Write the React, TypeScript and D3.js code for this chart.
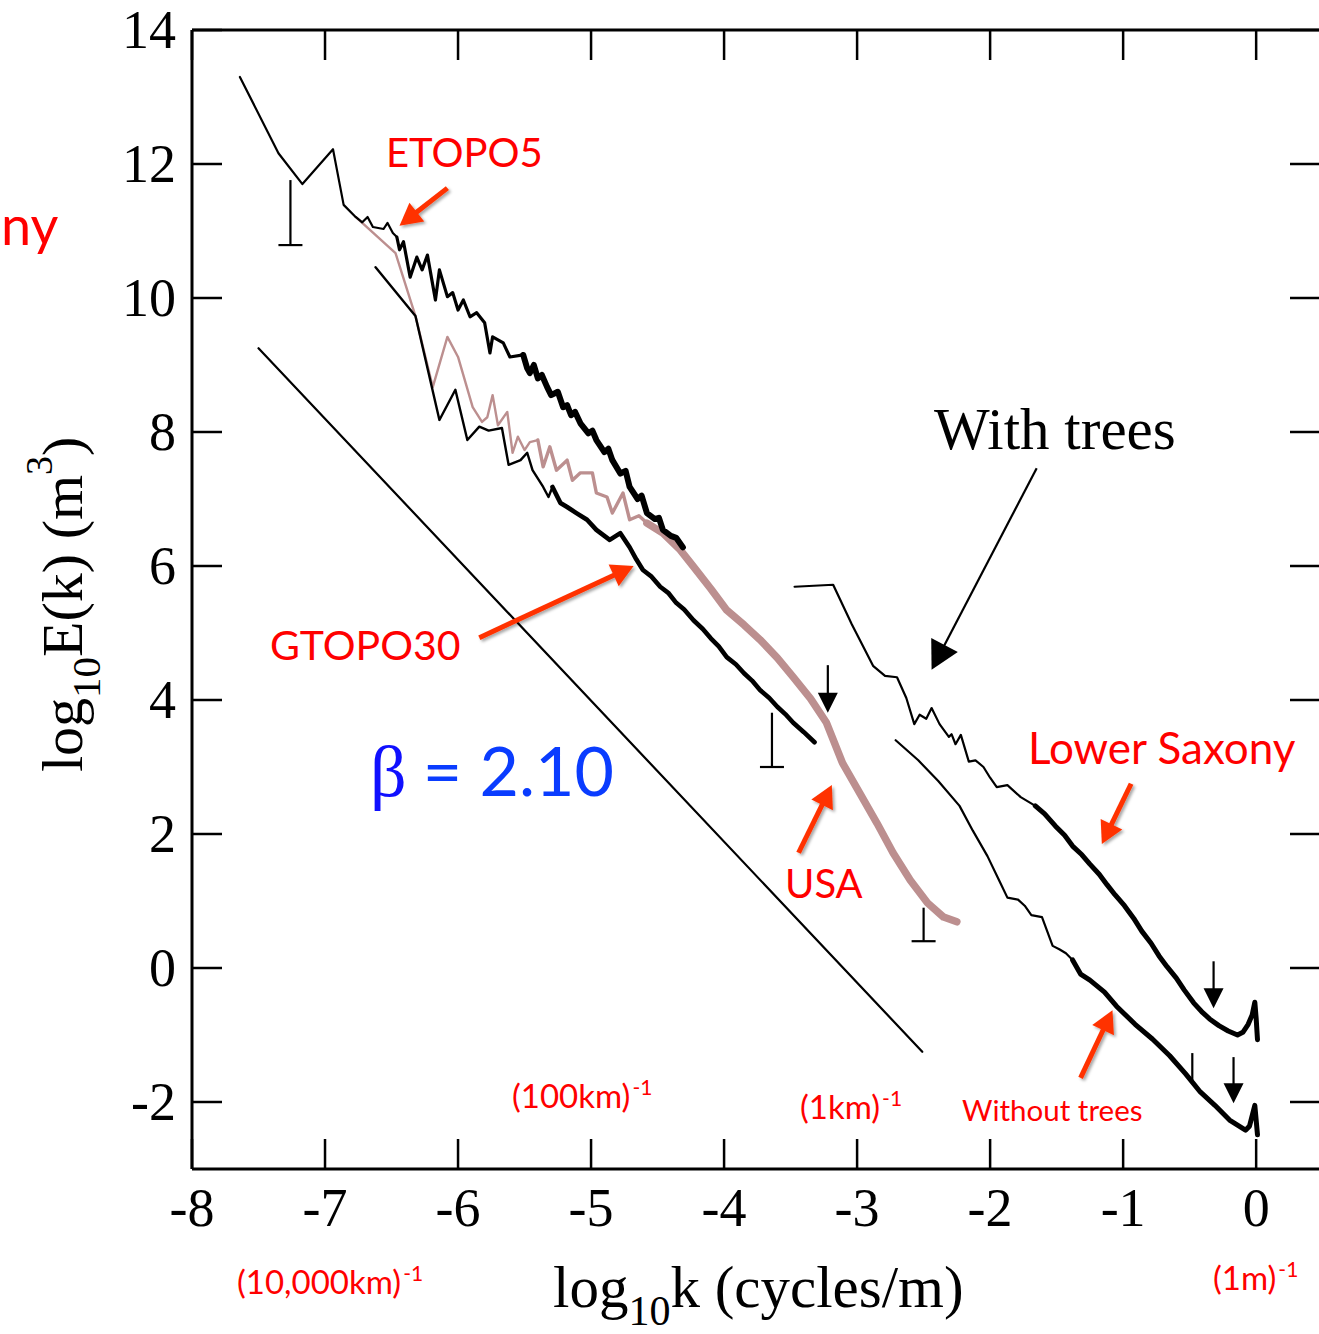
import React from 'react';
import * as d3 from 'd3';

// ---------- data (log10 k, log10 E) ----------
const xTicks = [-8, -7, -6, -5, -4, -3, -2, -1, 0];
const yTicks = [-2, 0, 2, 4, 6, 8, 10, 12, 14];

const etopo5Coarse: number[][] = [
  [-7.64, 13.3], [-7.35, 12.16], [-7.17, 11.7], [-6.94, 12.22], [-6.86, 11.39], [-6.77, 11.21],
  [-6.72, 11.13], [-6.68, 11.21], [-6.64, 11.06], [-6.56, 11.03], [-6.53, 11.12], [-6.49, 10.97], [-6.46, 10.91],
];
const etopo5Mid: number[][] = [
  [-6.46, 10.91], [-6.44, 10.72], [-6.41, 10.84], [-6.36, 10.31], [-6.31, 10.61], [-6.27, 10.42], [-6.23, 10.64],
  [-6.17, 9.97], [-6.14, 10.42], [-6.08, 10.02], [-6.04, 10.08], [-6.0, 9.82], [-5.96, 9.97], [-5.91, 9.72],
  [-5.86, 9.78], [-5.8, 9.63], [-5.76, 9.18], [-5.74, 9.42], [-5.66, 9.33], [-5.61, 9.12], [-5.51, 9.15],
];
const etopo5Fine: number[][] = [
  [-5.51, 9.15], [-5.48, 8.95], [-5.46, 8.88], [-5.43, 9.0], [-5.4, 8.8], [-5.37, 8.85], [-5.33, 8.67],
  [-5.3, 8.55], [-5.25, 8.6], [-5.21, 8.37], [-5.18, 8.4], [-5.15, 8.25], [-5.12, 8.3], [-5.08, 8.13],
  [-5.02, 7.98], [-4.99, 8.02], [-4.96, 7.88], [-4.9, 7.7], [-4.87, 7.75], [-4.84, 7.58], [-4.78, 7.38],
  [-4.74, 7.42], [-4.71, 7.18], [-4.65, 7.0], [-4.62, 7.05], [-4.58, 6.79], [-4.52, 6.7], [-4.49, 6.72],
  [-4.46, 6.54], [-4.4, 6.45], [-4.36, 6.42], [-4.31, 6.28],
];
const gtopo30Coarse: number[][] = [
  [-6.62, 10.46], [-6.32, 9.73], [-6.14, 8.18], [-6.02, 8.63], [-5.93, 7.88], [-5.84, 8.08], [-5.77, 8.02],
  [-5.67, 8.06], [-5.62, 7.51], [-5.53, 7.58], [-5.48, 7.69], [-5.44, 7.43], [-5.36, 7.18], [-5.32, 7.03], [-5.29, 7.18],
];
const gtopo30Fine: number[][] = [
  [-5.29, 7.18], [-5.23, 6.94], [-5.18, 6.88], [-5.11, 6.79], [-5.03, 6.69], [-4.96, 6.54], [-4.86, 6.39],
  [-4.78, 6.49], [-4.71, 6.28], [-4.66, 6.1], [-4.61, 5.94], [-4.55, 5.85], [-4.48, 5.69], [-4.42, 5.6],
  [-4.36, 5.45], [-4.3, 5.35], [-4.23, 5.19], [-4.16, 5.06], [-4.1, 4.92], [-4.04, 4.8], [-3.98, 4.64],
  [-3.91, 4.53], [-3.85, 4.4], [-3.79, 4.29], [-3.73, 4.15], [-3.66, 4.03], [-3.6, 3.9], [-3.54, 3.79],
  [-3.48, 3.66], [-3.4, 3.52], [-3.32, 3.37],
];
const usaCoarse: number[][] = [
  [-6.77, 11.21], [-6.47, 10.67], [-6.32, 9.73], [-6.19, 8.67], [-6.08, 9.42], [-6.0, 9.12], [-5.89, 8.37],
  [-5.82, 8.15], [-5.78, 8.22], [-5.74, 8.55], [-5.7, 8.1], [-5.63, 8.3], [-5.59, 7.69], [-5.55, 7.93],
  [-5.5, 7.73], [-5.46, 7.85], [-5.4, 7.88],
];
const usaMid: number[][] = [
  [-5.4, 7.88], [-5.36, 7.48], [-5.31, 7.78], [-5.26, 7.43], [-5.18, 7.58], [-5.14, 7.28], [-5.08, 7.39],
  [-4.99, 7.39], [-4.96, 7.09], [-4.88, 7.03], [-4.84, 6.79], [-4.76, 7.09], [-4.71, 6.69], [-4.64, 6.75],
  [-4.58, 6.64],
];
const usaFine: number[][] = [
  [-4.58, 6.64], [-4.46, 6.49], [-4.33, 6.24], [-4.23, 5.99], [-4.1, 5.66], [-3.98, 5.34], [-3.85, 5.12],
  [-3.73, 4.9], [-3.6, 4.63], [-3.48, 4.34], [-3.35, 4.02], [-3.23, 3.66], [-3.11, 3.06], [-2.98, 2.61],
  [-2.85, 2.16], [-2.73, 1.72], [-2.6, 1.31], [-2.47, 0.97], [-2.35, 0.76], [-2.25, 0.69],
];
const withTreesCoarse: number[][] = [
  [-3.47, 5.69], [-3.18, 5.72], [-3.04, 5.13], [-2.88, 4.51], [-2.79, 4.36], [-2.7, 4.34], [-2.63, 4.03],
  [-2.57, 3.64], [-2.53, 3.78], [-2.48, 3.72], [-2.44, 3.88], [-2.38, 3.64], [-2.31, 3.45], [-2.29, 3.49],
  [-2.26, 3.34], [-2.22, 3.48], [-2.16, 3.08], [-2.11, 3.1], [-2.05, 3.0], [-2.0, 2.84], [-1.95, 2.7],
  [-1.87, 2.73], [-1.77, 2.55], [-1.66, 2.42],
];
const withTreesFine: number[][] = [
  [-1.66, 2.42], [-1.59, 2.3], [-1.51, 2.12], [-1.44, 1.98], [-1.38, 1.82], [-1.31, 1.69], [-1.25, 1.55],
  [-1.18, 1.4], [-1.12, 1.24], [-1.06, 1.09], [-0.99, 0.93], [-0.92, 0.74], [-0.86, 0.55], [-0.79, 0.37],
  [-0.73, 0.18], [-0.67, 0.02], [-0.6, -0.15], [-0.54, -0.33], [-0.47, -0.52], [-0.41, -0.65], [-0.35, -0.76],
  [-0.28, -0.86], [-0.21, -0.94], [-0.14, -1.0], [-0.1, -0.96], [-0.06, -0.84], [-0.03, -0.7], [-0.01, -0.51],
  [0.0, -0.75], [0.01, -1.07],
];
const withoutTreesCoarse: number[][] = [
  [-2.71, 3.4], [-2.54, 3.1], [-2.39, 2.79], [-2.23, 2.42], [-2.13, 2.05], [-2.02, 1.67], [-1.93, 1.3],
  [-1.87, 1.05], [-1.79, 1.02], [-1.74, 0.93], [-1.69, 0.79], [-1.61, 0.76], [-1.53, 0.33], [-1.48, 0.28],
  [-1.43, 0.22], [-1.38, 0.12],
];
const withoutTreesFine: number[][] = [
  [-1.38, 0.12], [-1.32, -0.09], [-1.25, -0.18], [-1.14, -0.36], [-1.05, -0.57], [-0.91, -0.84], [-0.78, -1.06],
  [-0.65, -1.31], [-0.53, -1.58], [-0.42, -1.85], [-0.31, -2.05], [-0.2, -2.27], [-0.08, -2.42], [-0.05, -2.36],
  [-0.01, -2.05], [0.01, -2.49],
];
// reference slope beta = 2.10
const betaLine: number[][] = [[-7.5, 9.25], [-2.51, -1.25]];

// error bars: x, top, bottom, capped
const errorBarX = [-7.26, -3.64, -2.5, -0.48];
const errorBarTop = [11.76, 3.81, 0.9, -1.27];
const errorBarBottom = [10.79, 3.0, 0.4, -1.72];
const errorBarCap = [true, true, true, false];

// black cut-off arrows (pointing down)
const cutoffX = [-3.22, -0.32, -0.17];
const cutoffFrom = [4.52, 0.1, -1.33];
const cutoffTo = [3.81, -0.6, -2.02];

// red annotation arrows [x1,y1,x2(tip),y2(tip)]
const redArrows: number[][] = [
  [-6.08, 11.64, -6.44, 11.08],
  [-5.84, 4.93, -4.68, 6.0],
  [-3.44, 1.72, -3.19, 2.73],
  [-0.94, 2.75, -1.16, 1.85],
  [-1.32, -1.64, -1.08, -0.63],
];
const withTreesArrow = [-1.65, 7.46, -2.44, 4.45];

const SERIF = "'Liberation Serif', 'Times New Roman', serif";
const SANS = "Lato, 'Open Sans', sans-serif";
const RED = '#ff0000';
const ARROW_RED = '#ff3300';
const BROWN = '#bc8f8f';

function arrowGeom(x1: number, y1: number, x2: number, y2: number, L: number, w: number) {
  const dx = x2 - x1, dy = y2 - y1;
  const len = Math.hypot(dx, dy);
  const ux = dx / len, uy = dy / len;
  const bx = x2 - ux * L, by = y2 - uy * L;
  const nx = -uy, ny = ux;
  return {
    shaft: [x1, y1, bx + ux * 2, by + uy * 2],
    head: `${x2},${y2} ${bx + nx * w},${by + ny * w} ${bx - nx * w},${by - ny * w}`,
  };
}

export default function App() {
  const x = d3.scaleLinear().domain([-8, 0.48]).range([192, 1320]);
  const y = d3.scaleLinear().domain([-3, 14]).range([1169, 30]);
  const line = d3.line<number[]>().x((d) => x(d[0])).y((d) => y(d[1]));
  const x0 = x.range()[0], x1 = x.range()[1];
  const yTop = y.range()[1], yBot = y.range()[0];
  const T = 30;

  const path = (d: number[][], color: string, w: number, key: string) => (
    <path key={key} d={line(d) || ''} fill="none" stroke={color} strokeWidth={w} strokeLinejoin="round" strokeLinecap="round" />
  );

  const scaleLabel = (txt: string, lx: number, ly: number, key: string) => (
    <text key={key} x={lx} y={ly} fontFamily={SANS} fontSize={33} fill={RED}>
      {txt}<tspan fontSize={21} dy={-13} dx={2}>-1</tspan>
    </text>
  );

  return (
    <svg width={1319} height={1334} style={{ position: 'absolute', left: 0, top: 0, background: '#fff' }}>
      <defs>
        <filter id="sh" x="-20%" y="-20%" width="140%" height="140%">
          <feDropShadow dx="2" dy="2" stdDeviation="1.5" floodColor="#000" floodOpacity="0.35" />
        </filter>
      </defs>
      <rect x={0} y={0} width={1319} height={1334} fill="#fff" />

      {/* frame */}
      <line x1={x0} y1={yTop} x2={x0} y2={yBot} stroke="#000" strokeWidth={3} />
      <line x1={x0} y1={yTop} x2={x1} y2={yTop} stroke="#000" strokeWidth={3} />
      <line x1={x0} y1={yBot} x2={x1} y2={yBot} stroke="#000" strokeWidth={3} />
      {xTicks.map((t) => (
        <g key={'xt' + t}>
          <line x1={x(t)} x2={x(t)} y1={yTop} y2={yTop + T} stroke="#000" strokeWidth={2.5} />
          <line x1={x(t)} x2={x(t)} y1={yBot} y2={yBot - T} stroke="#000" strokeWidth={2.5} />
          <text x={x(t)} y={1226} textAnchor="middle" fontFamily={SERIF} fontSize={54}>{t === 0 ? '0' : '-' + Math.abs(t)}</text>
        </g>
      ))}
      {yTicks.map((t) => (
        <g key={'yt' + t}>
          <line x1={x0} x2={x0 + T} y1={y(t)} y2={y(t)} stroke="#000" strokeWidth={2.5} />
          <line x1={x1 - T} x2={x1} y1={y(t)} y2={y(t)} stroke="#000" strokeWidth={2.5} />
          <text x={176} y={y(t) + 18} textAnchor="end" fontFamily={SERIF} fontSize={54}>{t < 0 ? '-' + Math.abs(t) : String(t)}</text>
        </g>
      ))}

      {/* axis titles */}
      <text x={553} y={1307} fontFamily={SERIF} fontSize={59}>
        log<tspan fontSize={42} dy={18}>10</tspan><tspan dy={-18}>k (cycles/m)</tspan>
      </text>
      <text transform="translate(82,772) rotate(-90)" fontFamily={SERIF} fontSize={58}>
        log<tspan fontSize={41} dy={18}>10</tspan><tspan dy={-18}>E(k) (m</tspan><tspan fontSize={38} dy={-30}>3</tspan><tspan dy={30}>)</tspan>
      </text>

      {/* reference slope */}
      {path(betaLine, '#000', 2.2, 'beta')}

      {/* USA (brown) */}
      {path(usaCoarse, BROWN, 2.4, 'usaC')}
      {path(usaMid, BROWN, 3.4, 'usaM')}
      {path(usaFine, BROWN, 7.5, 'usaF')}

      {/* black spectra */}
      {path(etopo5Coarse, '#000', 2.2, 'e5c')}
      {path(etopo5Mid, '#000', 3.2, 'e5m')}
      {path(etopo5Fine, '#000', 6, 'e5f')}
      {path(gtopo30Coarse, '#000', 2.4, 'g30c')}
      {path(gtopo30Fine, '#000', 4.6, 'g30f')}
      {path(withTreesCoarse, '#000', 2.2, 'wtc')}
      {path(withTreesFine, '#000', 5, 'wtf')}
      {path(withoutTreesCoarse, '#000', 2.2, 'wotc')}
      {path(withoutTreesFine, '#000', 5, 'wotf')}

      {/* error bars */}
      {errorBarX.map((ex, i) => (
        <g key={'eb' + i}>
          <line x1={x(ex)} x2={x(ex)} y1={y(errorBarTop[i])} y2={y(errorBarBottom[i])} stroke="#000" strokeWidth={2.2} />
          {errorBarCap[i] && (
            <line x1={x(ex) - 12} x2={x(ex) + 12} y1={y(errorBarBottom[i])} y2={y(errorBarBottom[i])} stroke="#000" strokeWidth={2.2} />
          )}
        </g>
      ))}

      {/* cut-off arrows */}
      {cutoffX.map((cx, i) => {
        const g = arrowGeom(x(cx), y(cutoffFrom[i]), x(cx), y(cutoffTo[i]), 20, 10);
        return (
          <g key={'co' + i}>
            <line x1={g.shaft[0]} y1={g.shaft[1]} x2={g.shaft[2]} y2={g.shaft[3]} stroke="#000" strokeWidth={2.2} />
            <polygon points={g.head} fill="#000" />
          </g>
        );
      })}

      {/* with trees arrow */}
      {(() => {
        const [a, b, c, d] = withTreesArrow;
        const g = arrowGeom(x(a), y(b), x(c), y(d), 28, 15);
        return (
          <g>
            <line x1={g.shaft[0]} y1={g.shaft[1]} x2={g.shaft[2]} y2={g.shaft[3]} stroke="#000" strokeWidth={2.2} />
            <polygon points={g.head} fill="#000" />
          </g>
        );
      })()}

      {/* red annotation arrows */}
      {redArrows.map((r, i) => {
        const g = arrowGeom(x(r[0]), y(r[1]), x(r[2]), y(r[3]), 22, 12);
        return (
          <g key={'ra' + i} filter="url(#sh)">
            <line x1={g.shaft[0]} y1={g.shaft[1]} x2={g.shaft[2]} y2={g.shaft[3]} stroke={ARROW_RED} strokeWidth={5} />
            <polygon points={g.head} fill={ARROW_RED} />
          </g>
        );
      })}

      {/* labels */}
      <text x={1} y={245} fontFamily={SANS} fontSize={54} fill={RED}>ny</text>
      <text x={386} y={167} fontFamily={SANS} fontSize={40} fill={RED}>ETOPO5</text>
      <text x={270} y={660} fontFamily={SANS} fontSize={41} fill={RED}>GTOPO30</text>
      <text x={785} y={898} fontFamily={SANS} fontSize={40} fill={RED}>USA</text>
      <text x={1028} y={764} fontFamily={SANS} fontSize={44} fill={RED}>Lower Saxony</text>
      <text x={962} y={1121} fontFamily={SANS} fontSize={29.5} fill={RED}>Without trees</text>
      <text x={934} y={449} fontFamily={SERIF} fontSize={59} fill="#000">With trees</text>

      {scaleLabel('(10,000km)', 237, 1294, 's1')}
      {scaleLabel('(100km)', 512, 1108, 's2')}
      {scaleLabel('(1km)', 800, 1119, 's3')}
      {scaleLabel('(1m)', 1213, 1290, 's4')}

      <text x={370} y={796} fontSize={68} fill="#0a3cff">
        <tspan fontFamily={SERIF} fill="#1010ff" fontSize={72}>β</tspan><tspan fontFamily={SANS} dx={16}>= 2.10</tspan>
      </text>
    </svg>
  );
}
